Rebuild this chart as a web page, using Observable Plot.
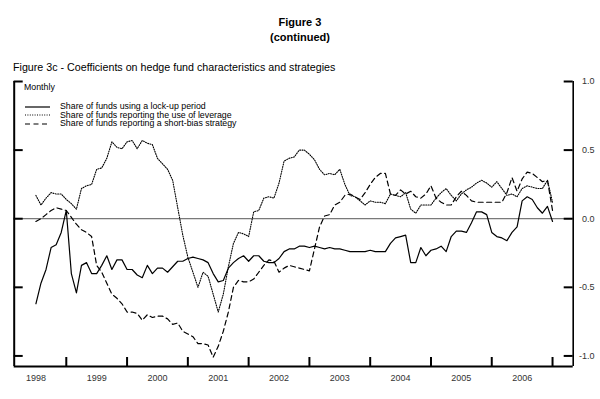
<!DOCTYPE html>
<html>
<head>
<meta charset="utf-8">
<script src="https://cdn.jsdelivr.net/npm/d3@7"></script>
<script src="https://cdn.jsdelivr.net/npm/@observablehq/plot@0.6"></script>
<style>
  html, body { margin: 0; padding: 0; background: #fff; }
  body { font-family: "Liberation Sans", Arial, sans-serif; color: #000; }
  #wrap { position: relative; width: 600px; height: 399px; overflow: hidden; }
  #head { position: relative; height: 74px; }
  .t { position: absolute; white-space: nowrap; }
  .c { left: 0; width: 600px; text-align: center; font-weight: bold; font-size: 11px; line-height: 12px; }
  .sub { left: 13px; font-size: 10.7px; line-height: 12px; }
  .lg { position: absolute; white-space: nowrap; font-size: 8.8px; line-height: 9px; }
  .lgline { position: absolute; }
  #chart svg { display: block; }
</style>
</head>
<body>
<div id="wrap">
  <div id="head">
    <div class="t c" style="top:16px">Figure 3</div>
    <div class="t c" style="top:31px">(continued)</div>
    <div class="t sub" style="top:61px">Figure 3c - Coefficients on hedge fund characteristics and strategies</div>
  </div>
  <div id="chart"></div>
  <div id="legend"></div>
</div>
<script>
// ---------------- data ----------------
const startYear = 1998;
const startMonth = 6; // first observation: June 1998 (monthly, through Dec 2006)

const lockup = [
  -0.62, -0.47, -0.37, -0.21, -0.19, -0.10, 0.06,
  -0.40, -0.54, -0.34, -0.32, -0.40, -0.40, -0.34, -0.27, -0.37, -0.30, -0.30, -0.37, -0.37,
  -0.41, -0.43, -0.34, -0.40, -0.36, -0.36, -0.39, -0.35, -0.31, -0.31, -0.29, -0.28, -0.29,
  -0.30, -0.32, -0.40, -0.46, -0.45, -0.36, -0.32, -0.29, -0.27, -0.31, -0.27, -0.27,
  -0.31, -0.32, -0.32, -0.29, -0.24, -0.22, -0.22, -0.20, -0.20, -0.21, -0.20, -0.21,
  -0.22, -0.21, -0.22, -0.22, -0.23, -0.24, -0.24, -0.24, -0.24, -0.23, -0.24, -0.24,
  -0.24, -0.18, -0.14, -0.13, -0.12, -0.32, -0.32, -0.21, -0.27, -0.23, -0.22, -0.20,
  -0.24, -0.13, -0.09, -0.09, -0.10, -0.03, 0.05, 0.05, 0.03, -0.10, -0.13, -0.14,
  -0.16, -0.10, -0.06, 0.13, 0.16, 0.14, 0.08, 0.04, 0.09, -0.02
];

const leverage = [
  0.17, 0.10, 0.15, 0.19, 0.18, 0.18, 0.14,
  0.11, 0.07, 0.22, 0.24, 0.25, 0.36, 0.37, 0.44, 0.56, 0.52, 0.51, 0.56, 0.57,
  0.51, 0.57, 0.55, 0.54, 0.44, 0.40, 0.36, 0.28, 0.08, -0.12, -0.28, -0.39, -0.50,
  -0.39, -0.42, -0.55, -0.68, -0.55, -0.35, -0.18, -0.10, -0.11, -0.13, 0.05, 0.06,
  0.15, 0.16, 0.15, 0.26, 0.42, 0.44, 0.45, 0.50, 0.50, 0.47, 0.43, 0.36,
  0.32, 0.33, 0.32, 0.36, 0.25, 0.17, 0.16, 0.13, 0.10, 0.13, 0.12, 0.12,
  0.11, 0.18, 0.17, 0.16, 0.19, 0.07, 0.04, 0.10, 0.10, 0.10, 0.15, 0.19,
  0.22, 0.17, 0.13, 0.18, 0.21, 0.23, 0.26, 0.28, 0.26, 0.23, 0.27, 0.22,
  0.17, 0.18, 0.16, 0.22, 0.24, 0.23, 0.22, 0.22, 0.28, 0.12
];

const shortBias = [
  -0.02, 0.00, 0.03, 0.06, 0.08, 0.07, 0.06,
  0.01, -0.04, -0.08, -0.10, -0.13, -0.34, -0.39, -0.47, -0.55, -0.58, -0.62, -0.68, -0.68,
  -0.69, -0.74, -0.70, -0.72, -0.71, -0.71, -0.73, -0.77, -0.76, -0.82, -0.84, -0.86, -0.91,
  -0.91, -0.92, -1.01, -0.93, -0.82, -0.68, -0.50, -0.45, -0.46, -0.46, -0.44, -0.39,
  -0.34, -0.30, -0.31, -0.39, -0.36, -0.34, -0.35, -0.36, -0.37, -0.38, -0.22, -0.06,
  0.02, 0.03, 0.10, 0.12, 0.17, 0.18, 0.16, 0.14, 0.19, 0.25, 0.30, 0.33,
  0.33, 0.18, 0.17, 0.21, 0.18, 0.20, 0.16, 0.15, 0.18, 0.24, 0.15, 0.12,
  0.10, 0.10, 0.16, 0.20, 0.17, 0.13, 0.12, 0.12, 0.12, 0.12, 0.12, 0.12,
  0.19, 0.30, 0.20, 0.29, 0.34, 0.33, 0.30, 0.27, 0.28, 0.06
];

const seriesNames = [
  "Share of funds using a lock-up period",
  "Share of funds reporting the use of leverage",
  "Share of funds reporting a short-bias strategy"
];
const yTicks = [-1.0, -0.5, 0.0, 0.5, 1.0];
const yearTicks = [1999, 2000, 2001, 2002, 2003, 2004, 2005, 2006, 2007];
const yearLabels = ["1998", "1999", "2000", "2001", "2002", "2003", "2004", "2005", "2006"];
const xDomain = [1998.143, 2007.34];
const yDomain = [-1.077, 1.0];

// ---------------- layout ----------------
const W = 600, H = 325;
const mL = 13.7, mR = 27.3, mT = 7, mB = 33;
const frameW = W - mL - mR, frameH = H - mT - mB;
const tickLen = 9;

const rows = lockup.map((v, i) => ({
  t: startYear + (startMonth + i) / 12,
  lockup: v,
  leverage: leverage[i],
  shortBias: shortBias[i]
}));

const styles = [
  {stroke: "#000", strokeWidth: 1.2, dash: null},
  {stroke: "#000", strokeWidth: 1.1, dash: "1,1.4"},
  {stroke: "#000", strokeWidth: 1.2, dash: "5,3.5"}
];

const chart = Plot.plot({
  width: W,
  height: H,
  marginLeft: mL,
  marginRight: mR,
  marginTop: mT,
  marginBottom: mB,
  style: {fontFamily: "'Liberation Sans', Arial, sans-serif", background: "#fff", overflow: "visible"},
  x: {type: "linear", domain: xDomain, axis: null},
  y: {domain: yDomain, axis: null},
  marks: [
    Plot.ruleY([0], {stroke: "#444", strokeWidth: 0.9}),
    Plot.line(rows, {x: "t", y: "lockup", stroke: styles[0].stroke, strokeWidth: styles[0].strokeWidth}),
    Plot.line(rows, {x: "t", y: "leverage", stroke: styles[1].stroke, strokeWidth: styles[1].strokeWidth, strokeDasharray: styles[1].dash}),
    Plot.line(rows, {x: "t", y: "shortBias", stroke: styles[2].stroke, strokeWidth: styles[2].strokeWidth, strokeDasharray: styles[2].dash}),
    Plot.ruleX([xDomain[0]], {stroke: "#000", strokeWidth: 2}),
    Plot.ruleX([xDomain[1]], {stroke: "#000", strokeWidth: 1.6}),
    Plot.ruleY([yDomain[0]], {stroke: "#000", strokeWidth: 2}),
    Plot.tickY(yTicks, {y: d => d, insetRight: frameW - tickLen, stroke: "#000", strokeWidth: 2}),
    Plot.tickY(yTicks, {y: d => d, insetLeft: frameW - tickLen, stroke: "#000", strokeWidth: 2}),
    Plot.tickX(yearTicks, {x: d => d, insetTop: frameH - tickLen, stroke: "#000", strokeWidth: 2}),
    Plot.text(yTicks, {y: d => d, text: d => d.toFixed(1), frameAnchor: "right", dx: 21.3, textAnchor: "end", fontSize: 9, fill: "#333"}),
    Plot.text(yearLabels, {x: d => +d + 0.5, text: d => d, frameAnchor: "bottom", dy: 14, fontSize: 9, fill: "#333"})
  ]
});
document.getElementById("chart").appendChild(chart);

// ---------------- legend (inside plot area) ----------------
const legend = document.getElementById("legend");
const monthly = document.createElement("div");
monthly.className = "lg";
monthly.style.left = "24px";
monthly.style.top = "83px";
monthly.textContent = "Monthly";
legend.appendChild(monthly);

const rowCenters = [106.5, 115, 123.5];
seriesNames.forEach((name, i) => {
  const s = styles[i];
  const svg = document.createElementNS("http://www.w3.org/2000/svg", "svg");
  svg.setAttribute("width", 26);
  svg.setAttribute("height", 4);
  svg.setAttribute("class", "lgline");
  svg.style.left = "25px";
  svg.style.top = (rowCenters[i] - 2) + "px";
  const ln = document.createElementNS("http://www.w3.org/2000/svg", "line");
  ln.setAttribute("x1", 0); ln.setAttribute("x2", 25);
  ln.setAttribute("y1", 2); ln.setAttribute("y2", 2);
  ln.setAttribute("stroke", s.stroke);
  ln.setAttribute("stroke-width", s.strokeWidth);
  if (s.dash) ln.setAttribute("stroke-dasharray", s.dash);
  svg.appendChild(ln);
  legend.appendChild(svg);
  const tx = document.createElement("div");
  tx.className = "lg";
  tx.style.left = "60px";
  tx.style.top = (rowCenters[i] - 4.5) + "px";
  tx.textContent = name;
  legend.appendChild(tx);
});
</script>
</body>
</html>
